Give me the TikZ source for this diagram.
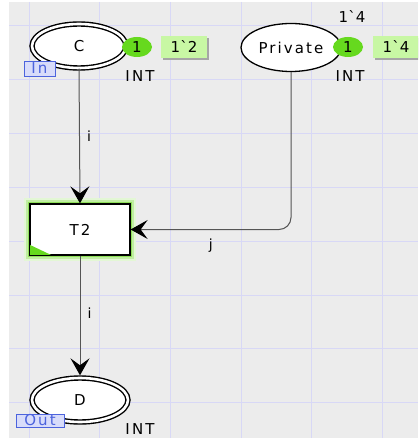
\documentclass[tikz,border=0pt]{standalone}
\usepackage{fontspec}
\setmainfont{DejaVu Sans}[LetterSpace=14]
\usetikzlibrary{arrows.meta,shapes.geometric,shadows}

\definecolor{cpnbg}{HTML}{ECECEC}
\definecolor{cpngrid}{HTML}{D8D8F6}
\definecolor{tokengreen}{HTML}{66D91E}
\definecolor{markbox}{HTML}{C8F7A4}
\definecolor{tagfill}{HTML}{D8DCFA}
\definecolor{tagblue}{HTML}{4C63DD}
\definecolor{arcgray}{HTML}{555555}
\definecolor{glow}{HTML}{8EDF58}

\begin{document}
\begin{tikzpicture}[x=1pt,y=-1pt,
	font=\fontsize{15}{17}\selectfont,
	place/.style={ellipse,draw,fill=white,line width=1.3pt,inner sep=0pt},
	port/.style={place,double,double distance=2.6pt,line width=1.4pt},
	trans/.style={rectangle,draw,fill=white,line width=1.3pt,minimum width=100pt,minimum height=51pt,
		preaction={draw=glow!25,line width=12pt},preaction={draw=glow!55,line width=8pt},
		preaction={draw=glow,line width=4pt}},
	token/.style={ellipse,fill=tokengreen,minimum width=30pt,minimum height=20pt,inner sep=0pt},
	marking/.style={fill=markbox,minimum width=46pt,minimum height=22pt,inner sep=0pt,
		drop shadow={shadow xshift=2pt,shadow yshift=-2pt,fill=black!35,opacity=1}},
	tag/.style={draw=tagblue,fill=tagfill,text=tagblue,inner sep=0pt,line width=0.8pt},
	arc/.style={draw=arcgray,line width=1pt,-{Stealth[length=17pt,width=19pt,inset=7pt,black]}},
	lbl/.style={inner sep=0pt,font=\fontsize{14}{16}\selectfont}
	]
	\useasboundingbox (0,0) rectangle (418,438);
	\clip (0,0) rectangle (418,438);
	% Background and grid
	\fill[white] (0,0) rectangle (418,438);
	\fill[cpnbg] (9,2) rectangle (418,438);
	\foreach \x in {29,99.5,170,241,311.5,382}
		\draw[cpngrid,line width=0.8pt] (\x,2) -- (\x,438);
	\foreach \y in {25,79,133,187,241,295,348,402}
		\draw[cpngrid,line width=0.8pt] (9,\y) -- (418,\y);
	% Places
	\node[port,minimum width=94pt,minimum height=44pt] (C) at (79,46) {C};
	\node[place,minimum width=100pt,minimum height=48pt] (Priv) at (291,47.5) {Private};
	\node[port,minimum width=96pt,minimum height=44pt] (D) at (80,400) {D};
	% Transition
	\node[trans] (T2) at (80,229.5) {T2};
	\fill[tokengreen] ([shift={(0.7,-0.7)}]T2.south west) -- ++(0,-10) -- ++(21,10) -- cycle;
	% Port tags
	\node[tag,minimum width=31pt,minimum height=15pt] (Cin) at (39.5,68.5) {In};
	\node[tag,minimum width=48pt,minimum height=13pt] (Dout) at (40,420.5) {Out};
	% Colour sets
	\node (Ctype) at (140,76) {INT};
	\node (Ptype) at (350,76) {INT};
	\node (Dtype) at (140,429) {INT};
	% Markings
	\node (Pinit) at (352,17) {1\textasciigrave 4};
	\node[token] (Ctok) at (137,47) {1};
	\node[marking] (Cmark) at (184,47) {1\textasciigrave 2};
	\node[token] (Ptok) at (348,47) {1};
	\node[marking] (Pmark) at (396,47) {1\textasciigrave 4};
	% Arcs
	\draw[arc] (C.south) -- node[lbl,right=7pt] {i} (T2.north);
	\draw[arc,rounded corners=12pt] (Priv.south) |- node[lbl,pos=0.75,below=9pt] {j} (T2.east);
	\draw[arc,shorten >=2pt] (T2.south) -- node[lbl,right=7pt,pos=0.47] {i} (D.north);
\end{tikzpicture}
\end{document}
